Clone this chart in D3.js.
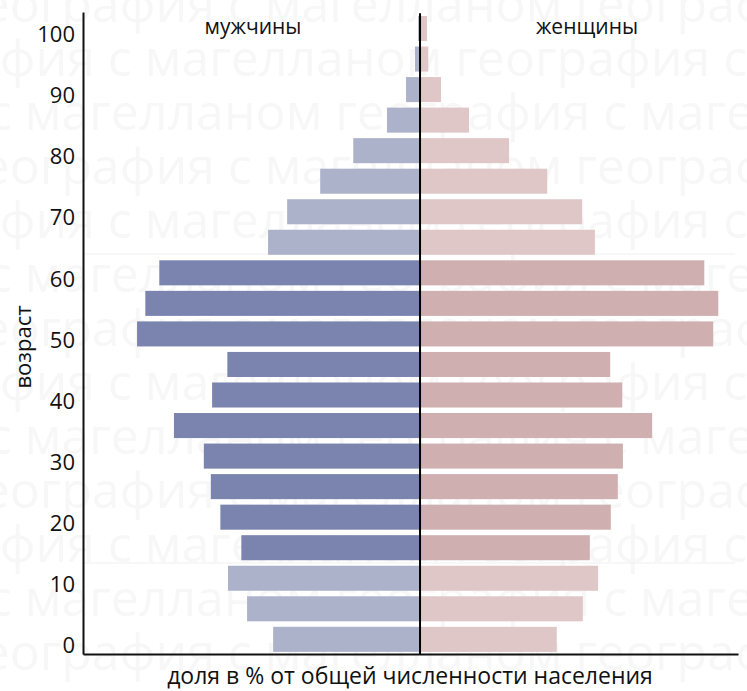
<!DOCTYPE html>
<html>
<head>
<meta charset="utf-8">
<script src="https://cdn.jsdelivr.net/npm/d3@7"></script>
<style>
body{margin:0;background:#fff}
text{font-family:"Open Sans",sans-serif}
</style>
</head>
<body>
<div id="chart"></div>
<script>
// age groups, start age of each 5 year band
var ageStarts = [0,5,10,15,20,25,30,35,40,45,50,55,60,65,70,75,80,85,90,95,100]
var ageGroups = ["0-4","5-9","10-14","15-19","20-24","25-29","30-34","35-39","40-44","45-49","50-54","55-59","60-64","65-69","70-74","75-79","80-84","85-89","90-94","95-99","100+"]
// share of total population, %
var male   = [2.31,2.72,3.02,2.81,3.14,3.29,3.40,3.87,3.27,3.03,4.45,4.32,4.10,2.39,2.09,1.57,1.05,0.52,0.22,0.08,0.03]
var female = [2.15,2.56,2.80,2.67,3.00,3.11,3.19,3.65,3.18,2.99,4.61,4.69,4.47,2.75,2.55,2.00,1.40,0.77,0.33,0.13,0.11]
var yTicks = [0,10,20,30,40,50,60,70,80,90,100]

var watermark = "география с магелланом   "

var W = 747, H = 691
var margin = {top: 12, right: 9, bottom: 37, left: 83}

var svg = d3.select("#chart").append("svg")
    .attr("width", W)
    .attr("height", H)

// faint background watermark (video overlay)
var wm = svg.append("g").attr("class","watermark")
for(var r=0;r<13;r++){
	wm.append("text")
		.text(watermark+watermark)
		.attr("x", -40 - (r%3)*120)
		.attr("y", 22 + r*54)
		.style("font-size","50px")
		.style("fill","#f7f7f7")
}
wm.append("line").attr("x1",83).attr("x2",735).attr("y1",254).attr("y2",254).style("stroke","#efefef")
wm.append("line").attr("x1",83).attr("x2",735).attr("y1",563).attr("y2",563).style("stroke","#efefef")

var x = d3.scaleLinear().domain([-5.3, 5.0]).range([margin.left, W - margin.right])
var y = d3.scaleLinear().domain([-1.5, 103.6]).range([H - margin.bottom, margin.top])

function isCore(a){ return a>=15 && a<65 }

var rows = ageStarts.map(function(a,i){
	return {age:a, group:ageGroups[i], m:male[i], f:female[i]}
})

// men
svg.selectAll(".male")
	.data(rows)
	.enter()
	.append("rect")
	.attr("class","male")
	.attr("x",function(d){return x(-d.m)})
	.attr("width",function(d){return x(0)-x(-d.m)})
	.attr("y",function(d){return y(d.age+2.95)})
	.attr("height",function(d){return y(d.age-1.15)-y(d.age+2.95)})
	.attr("fill",function(d){return isCore(d.age) ? "#7a84ae" : "#adb2cb"})

// women
svg.selectAll(".female")
	.data(rows)
	.enter()
	.append("rect")
	.attr("class","female")
	.attr("x",x(0))
	.attr("width",function(d){return x(d.f)-x(0)})
	.attr("y",function(d){return y(d.age+2.95)})
	.attr("height",function(d){return y(d.age-1.15)-y(d.age+2.95)})
	.attr("fill",function(d){return isCore(d.age) ? "#cfafb0" : "#dfc7c8"})

// axes
var yAxis = svg.append("g")
	.attr("transform","translate("+margin.left+",0)")
	.call(d3.axisLeft(y).tickValues(yTicks).tickSizeInner(0).tickSizeOuter(0).tickPadding(8))
yAxis.select(".domain").style("stroke","#111").style("stroke-width",2)
yAxis.selectAll("text").style("font-size","22px").style("fill","#111").attr("dy","0.35em")

var xAxis = svg.append("g")
	.attr("transform","translate(0,"+(H - margin.bottom)+")")
	.call(d3.axisBottom(x).tickValues([]).tickSizeOuter(0))
xAxis.select(".domain").style("stroke","#111").style("stroke-width",2)

// centre line
svg.append("line")
	.attr("x1",x(0)).attr("x2",x(0))
	.attr("y1",y(103.4)).attr("y2",H - margin.bottom)
	.style("stroke","#000").style("stroke-width",2)

// labels
svg.append("text").text("мужчины")
	.attr("x",253).attr("y",34)
	.attr("text-anchor","middle")
	.style("font-size","21px").style("fill","#111")
svg.append("text").text("женщины")
	.attr("x",587).attr("y",34)
	.attr("text-anchor","middle")
	.style("font-size","21px").style("fill","#111")

svg.append("text").text("доля в % от общей численности населения")
	.attr("x",410).attr("y",684)
	.attr("text-anchor","middle")
	.style("font-size","23px").style("fill","#111")

svg.append("text").text("возраст")
	.attr("transform","translate(31,347) rotate(-90)")
	.attr("text-anchor","middle")
	.style("font-size","22px").style("fill","#111")
</script>
</body>
</html>
